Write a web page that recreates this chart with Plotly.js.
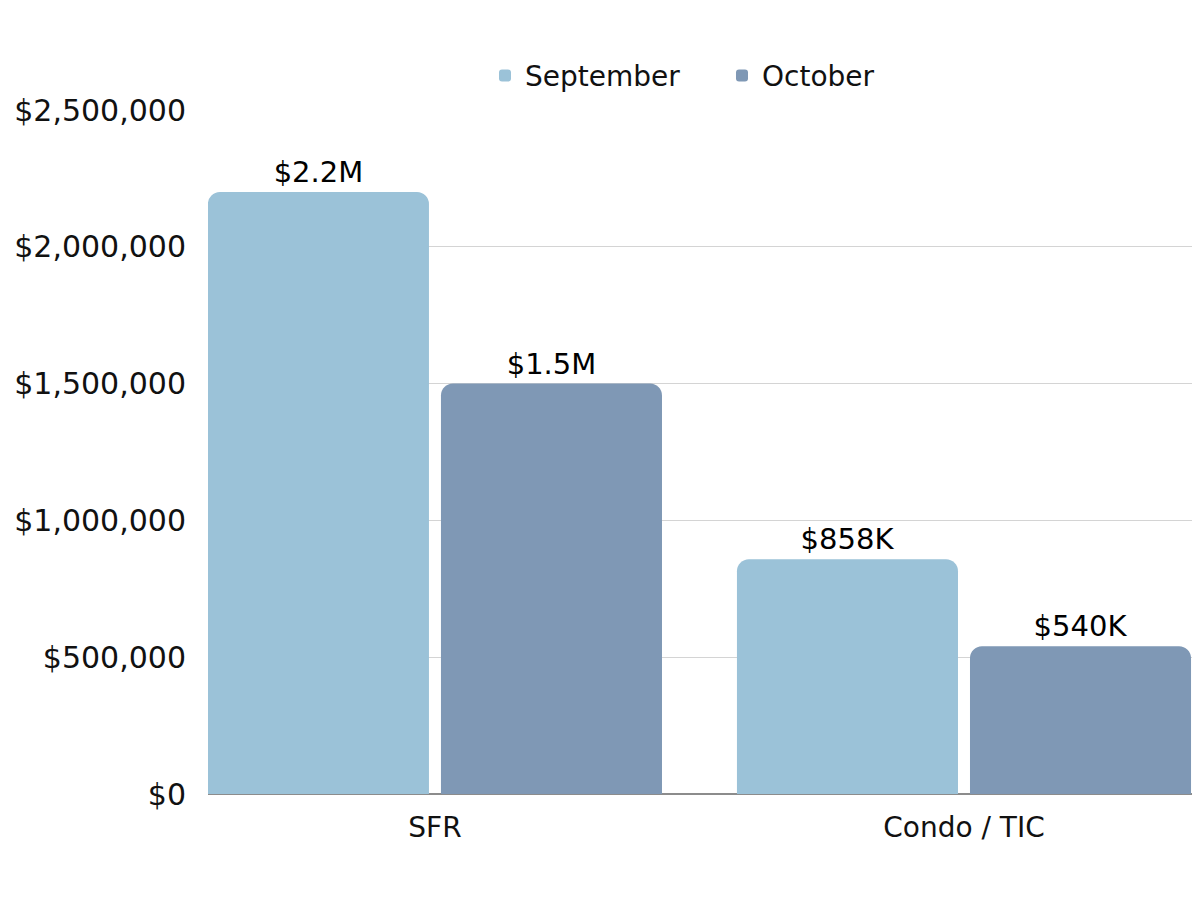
<!DOCTYPE html>
<html>
<head>
<meta charset="utf-8">
<script src="https://cdn.plot.ly/plotly-3.0.1.min.js"></script>
<style>html,body{margin:0;padding:0;background:#fff}#chart{width:1200px;height:900px}</style>
</head>
<body>
<div id="chart"></div>
<script>
const categories = ["SFR", "Condo / TIC"];
const septemberValues = [2200000, 858000];
const octoberValues = [1500000, 540000];
const septemberLabels = ["$2.2M", "$858K"];
const octoberLabels = ["$1.5M", "$540K"];
const yTickValues = [0, 500000, 1000000, 1500000, 2000000, 2500000];

const FONT = "DejaVu Sans, Noto Sans, sans-serif";

const traces = [
  {
    type: "bar", name: "September", x: categories, y: septemberValues,
    text: septemberLabels, textposition: "outside", cliponaxis: false,
    textfont: {family: FONT, size: 29, color: "#000"},
    marker: {color: "#9BC2D8", cornerradius: 12},
    hoverinfo: "none"
  },
  {
    type: "bar", name: "October", x: categories, y: octoberValues,
    text: octoberLabels, textposition: "outside", cliponaxis: false,
    textfont: {family: FONT, size: 29, color: "#000"},
    marker: {color: "#7F98B5", cornerradius: 12},
    hoverinfo: "none"
  }
];

const layout = {
  width: 1200, height: 900,
  margin: {l: 208, r: 8, t: 110, b: 106},
  paper_bgcolor: "#fff", plot_bgcolor: "#fff",
  font: {family: FONT, size: 28, color: "#111"},
  barmode: "group",
  bargap: 0.119,
  bargroupgap: 0.0515,
  showlegend: true,
  legend: {orientation: "h", x: 0.2815, xanchor: "left", y: 1.05, yanchor: "middle",
           font: {family: FONT, size: 28, color: "#111"}, itemwidth: 30,
           entrywidth: 192, entrywidthmode: "pixels", bgcolor: "rgba(0,0,0,0)"},
  xaxis: {
    type: "category", range: [-0.429, 1.431],
    showgrid: false, zeroline: false,
    showline: false,
    ticks: "outside", ticklen: 8, tickcolor: "rgba(0,0,0,0)",
    tickfont: {family: FONT, size: 28, color: "#111"}
  },
  yaxis: {
    range: [0, 2500000],
    tickvals: yTickValues, tickformat: "$,",
    showgrid: true, gridcolor: "#d4d4d4", gridwidth: 1,
    zeroline: true, zerolinecolor: "#8c8c8c", zerolinewidth: 1.5,
    showline: false,
    ticks: "outside", ticklen: 15, tickcolor: "rgba(0,0,0,0)",
    tickfont: {family: FONT, size: 30, color: "#111"}
  }
};

Plotly.newPlot("chart", traces, layout, {displayModeBar: false, staticPlot: true});
</script>
</body>
</html>
